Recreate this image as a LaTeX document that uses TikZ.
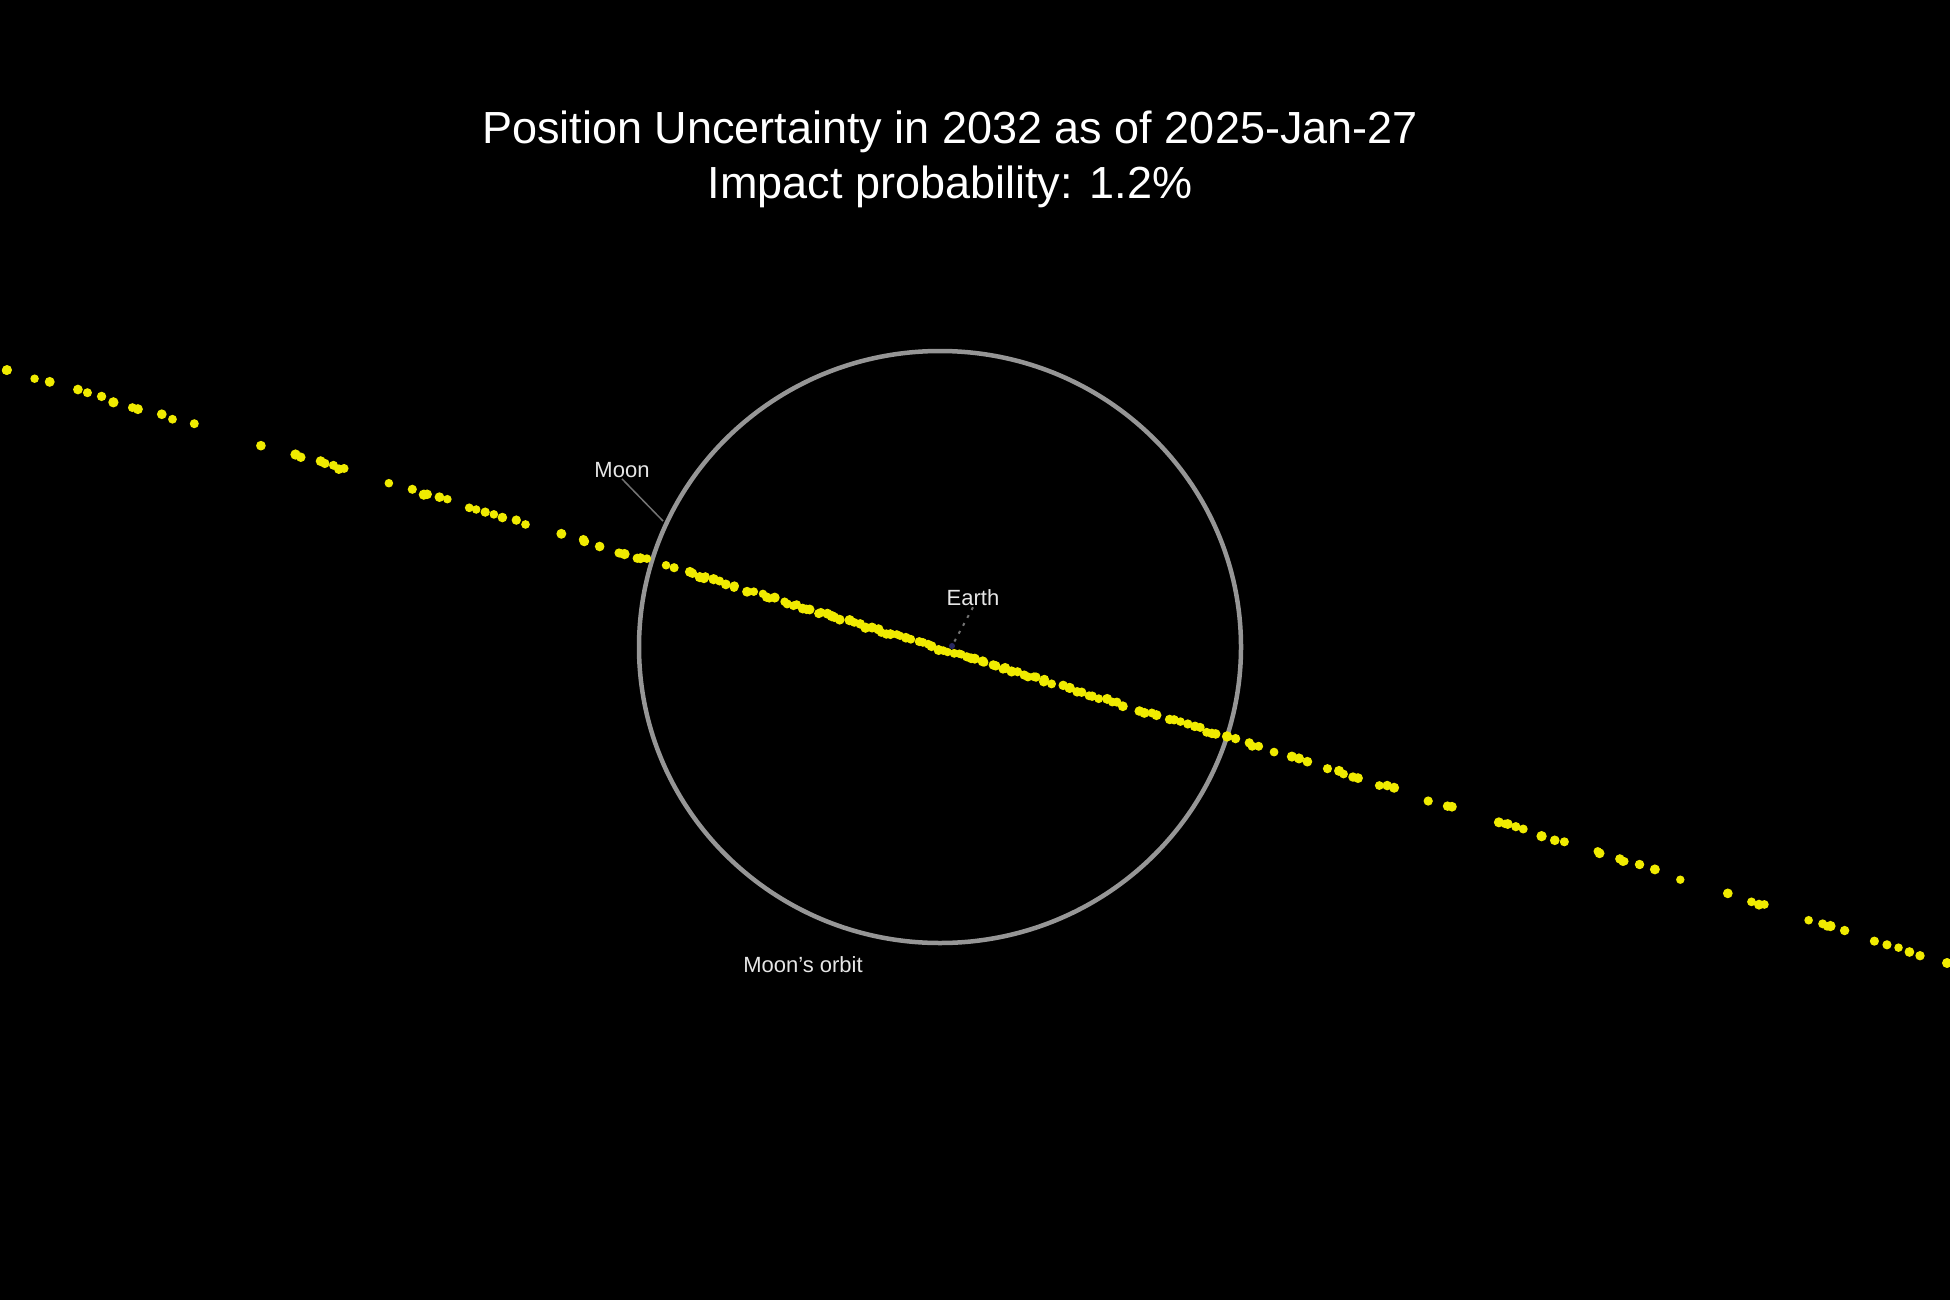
\documentclass[tikz,border=0pt]{standalone}
\usepackage{fontspec}
\setmainfont{Liberation Sans}
\definecolor{orbitgray}{RGB}{150,150,150}
\definecolor{track}{RGB}{240,235,0}
\definecolor{lbl}{RGB}{230,230,230}
\definecolor{leadergray}{RGB}{115,115,115}
\definecolor{earthdot}{RGB}{40,40,95}
\begin{document}
\begin{tikzpicture}[x=1pt,y=-1pt,
  titletext/.style={text=white,font=\fontsize{45}{54}\selectfont,inner sep=0pt},
  lab/.style={text=lbl,font=\fontsize{22}{26}\selectfont,inner sep=1pt},
  orbit/.style={draw=orbitgray,line width=4.5pt},
  leaderline/.style={draw=leadergray,line width=1.5pt},
  dotleader/.style={draw=leadergray,line width=2pt,dash pattern=on 3pt off 6pt}]
\fill[black] (0,0) rectangle (1950,1300);
\useasboundingbox (0,0) rectangle (1950,1300);
% title
\node[titletext,anchor=base] (t1) at (950,144) {Position Uncertainty in 2032 as of 2025-Jan-27};
\node[titletext,anchor=base] (t2) at (950,199) {Impact probability: 1.2\%};
% Moon's orbit
\coordinate (ctr) at (940,647);
\draw[orbit] (ctr) ellipse [x radius=301, y radius=296];
% uncertainty track
\pgfmathsetseed{2032}
\foreach \i in {0,...,388}{
  \pgfmathsetmacro{\xx}{7+5*\i+3*rand}
  \pgfmathsetmacro{\dd}{abs(\xx-950)/300}
  \pgfmathsetmacro{\pp}{0.22+0.73/(1+\dd*\dd*\dd)}
  \pgfmathsetmacro{\uu}{(\xx-7)/100}
  \pgfmathsetmacro{\yy}{370+0.2928*(\xx-7)+0.0665*\uu*\uu+1.5*rand}
  \pgfmathsetmacro{\rr}{4.2+1.0*rnd}
  \pgfmathsetmacro{\keep}{rnd<\pp ? 1 : 0}
  \ifdim\keep pt>0.5pt \fill[track] (\xx,\yy) circle[radius=\rr]; \fi
}
\fill[track] (7,370) circle[radius=5];
\fill[track] (1947,963) circle[radius=5];
% bodies
\coordinate (moon) at (663,521);
\coordinate (earth) at (952,646);
\fill[earthdot] (earth) circle[radius=3];
% labels
\node[lab] (moonlbl) at (622,470) {Moon};
\node[lab] (earthlbl) at (973,598) {Earth};
\node[lab] (orbitlbl) at (803,965) {Moon's orbit};
\draw[leaderline] (moonlbl.south) -- (moon);
\draw[dotleader] (earthlbl.south) -- (earth);
\end{tikzpicture}
\end{document}
